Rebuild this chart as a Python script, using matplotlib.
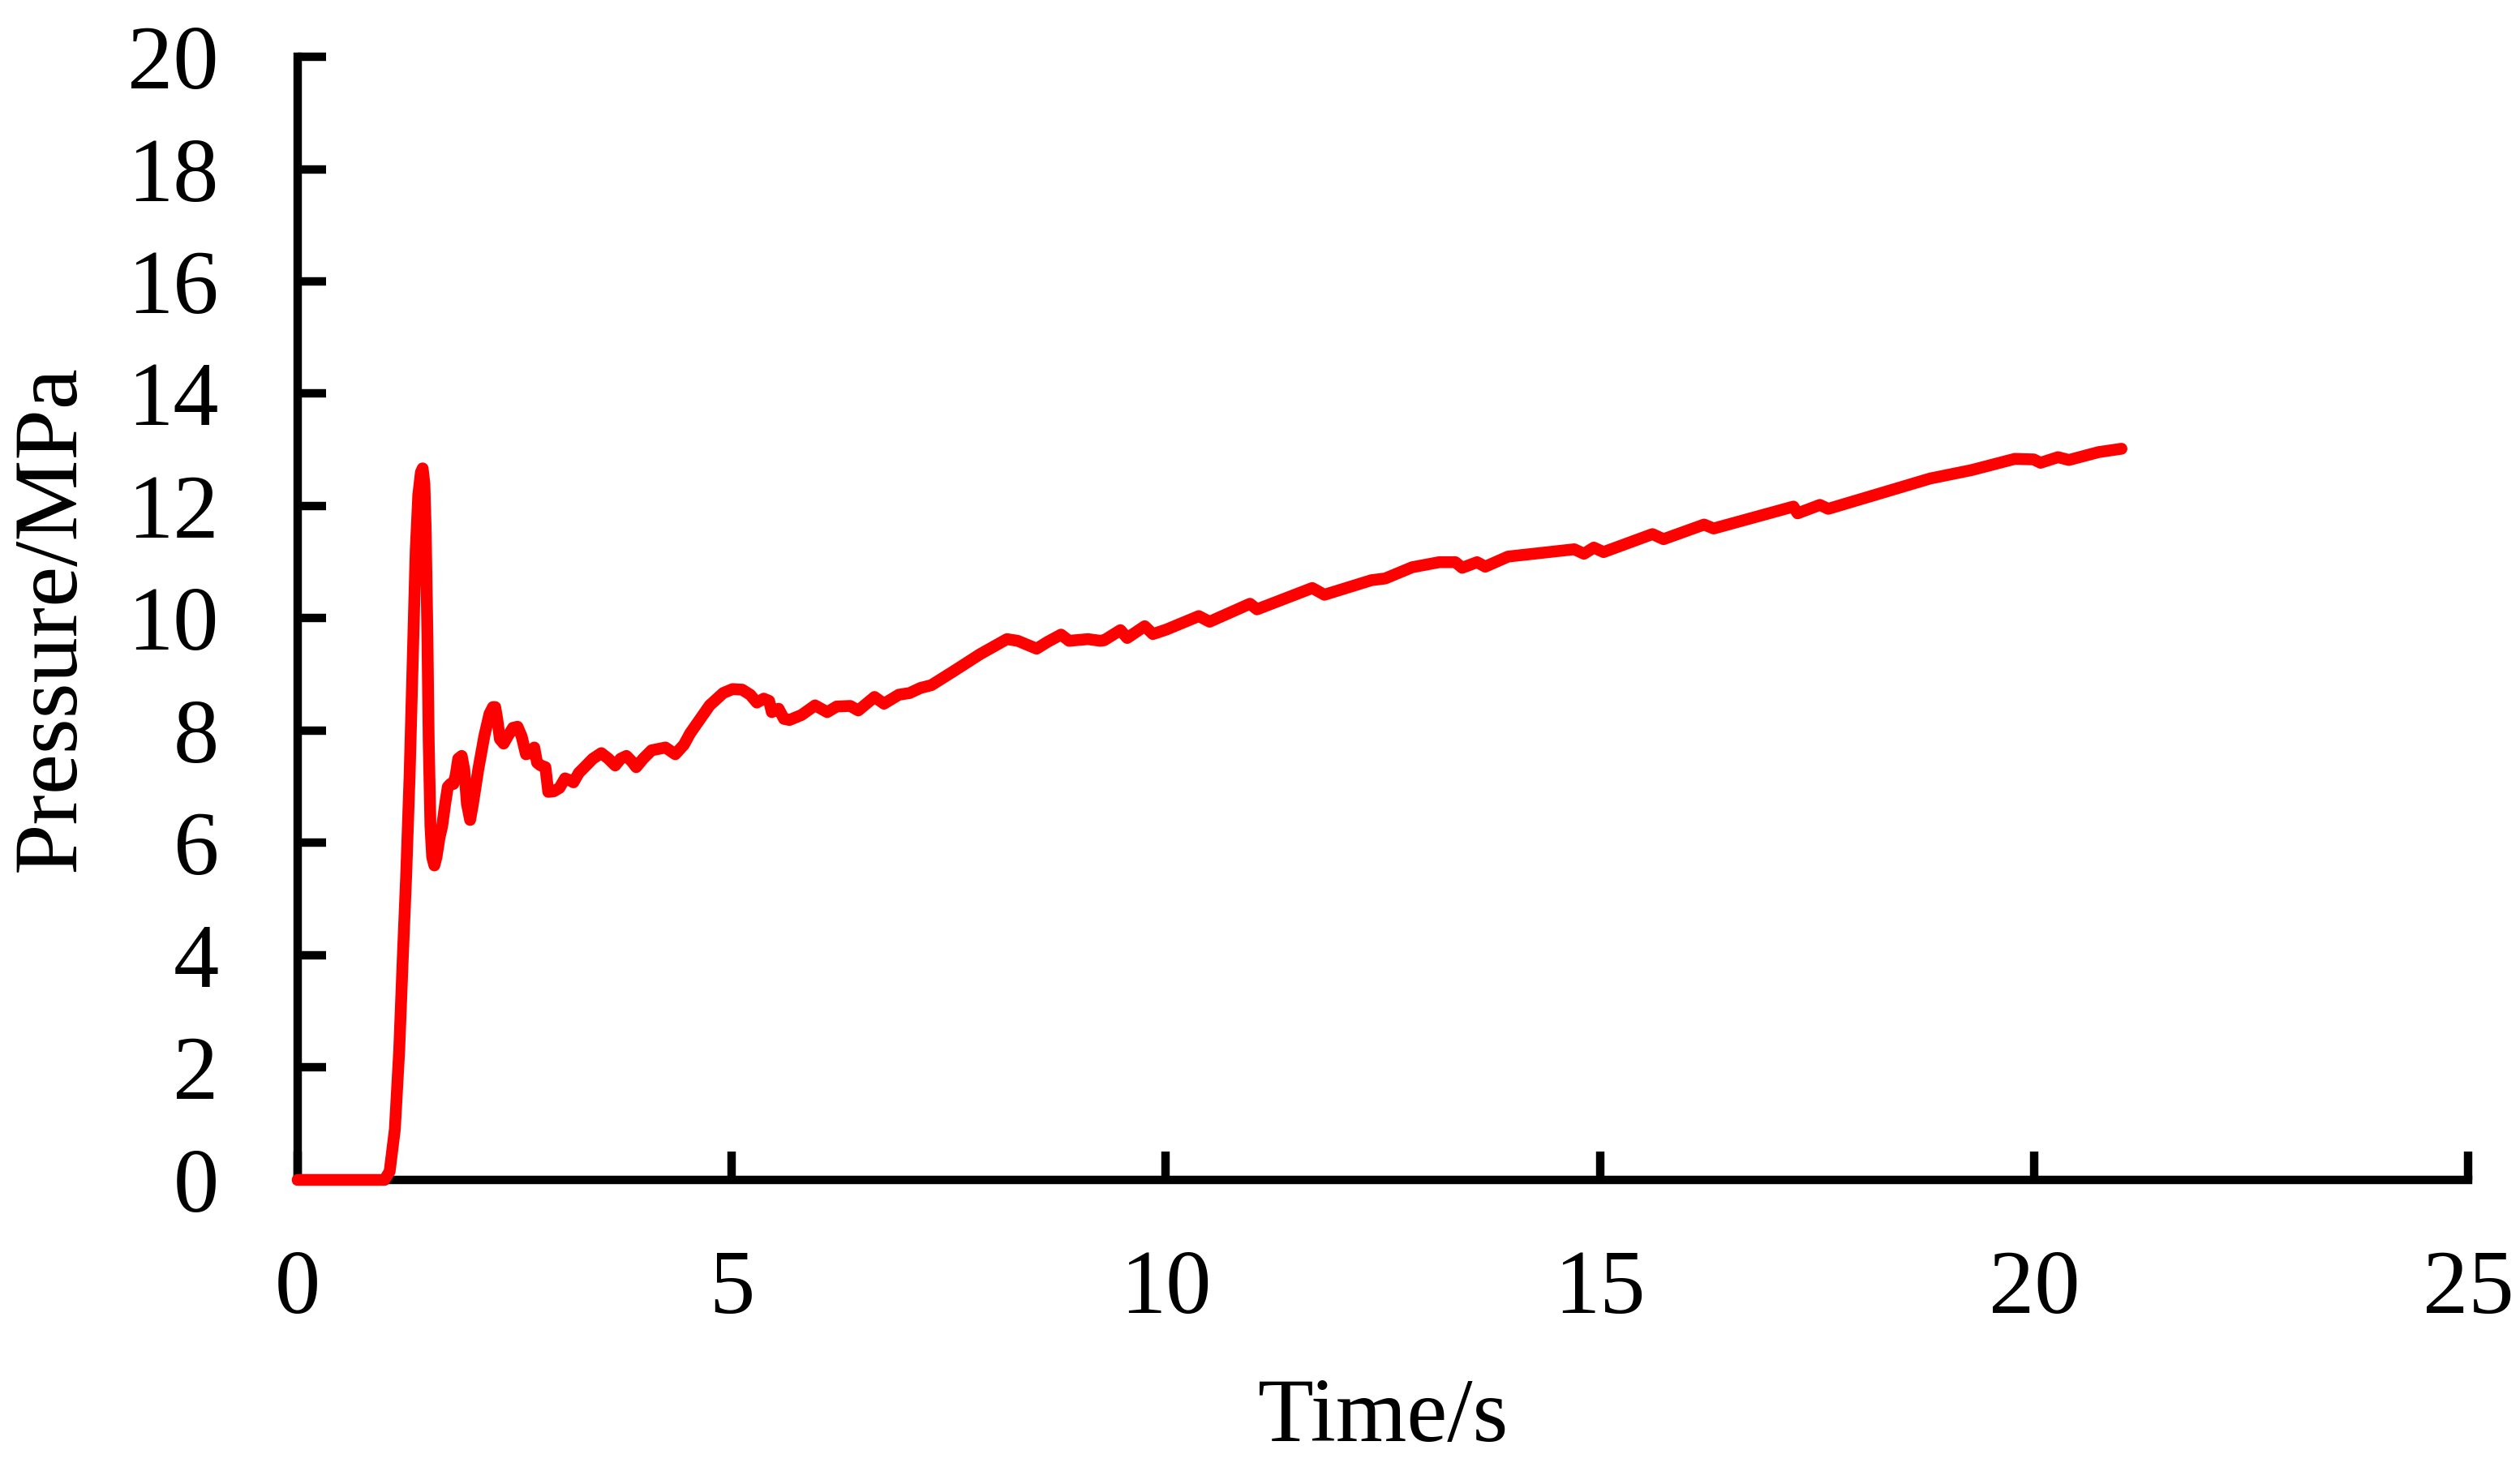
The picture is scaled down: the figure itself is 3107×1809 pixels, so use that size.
import matplotlib
matplotlib.use("Agg")
import matplotlib.pyplot as plt

# pressure trace (time in s, pressure in MPa)
time_s = [0.0, 1.00, 1.06, 1.12, 1.17, 1.21, 1.25, 1.29, 1.33, 1.36, 1.39, 1.42, 1.44,
          1.46, 1.475, 1.495, 1.51, 1.53, 1.55, 1.575, 1.60, 1.635, 1.665, 1.70, 1.73,
          1.76, 1.794, 1.82, 1.85, 1.89, 1.92, 1.95, 1.987, 2.02, 2.08, 2.15, 2.21,
          2.25, 2.276, 2.30, 2.33, 2.373, 2.42, 2.48, 2.533, 2.58, 2.63, 2.68, 2.726,
          2.758, 2.80, 2.854, 2.887, 2.95, 3.016, 3.08, 3.13, 3.177, 3.24, 3.305,
          3.40, 3.498, 3.58, 3.658, 3.72, 3.787, 3.85, 3.90, 3.98, 4.077, 4.237,
          4.35, 4.45, 4.52, 4.746, 4.902, 5.01, 5.12, 5.213, 5.29, 5.369, 5.431,
          5.462, 5.54, 5.602, 5.665, 5.805, 5.96, 6.10, 6.209, 6.365, 6.458, 6.645,
          6.754, 6.925, 7.05, 7.174, 7.30, 7.547, 7.859, 8.17, 8.294, 8.512, 8.637,
          8.793, 8.886, 9.104, 9.244, 9.29, 9.477, 9.555, 9.757, 9.851, 10.006,
          10.38, 10.504, 10.97, 11.05, 11.687, 11.827, 12.37, 12.527, 12.838,
          13.149, 13.336, 13.414, 13.585, 13.679, 13.943, 14.415, 14.705, 14.817,
          14.93, 15.042, 15.605, 15.733, 16.2, 16.31, 17.229, 17.277, 17.534,
          17.63, 18.804, 19.281, 19.779, 19.997, 20.075, 20.277, 20.402, 20.744,
          21.008]
pressure_mpa = [0.0, 0.0, 0.15, 0.9, 2.3, 3.9, 5.4, 7.2, 9.5, 11.2, 12.2, 12.6, 12.67,
                12.4, 11.6, 9.7, 7.8, 6.3, 5.75, 5.6, 5.75, 6.1, 6.3, 6.7, 7.0,
                7.05, 7.05, 7.2, 7.5, 7.55, 7.3, 6.7, 6.41, 6.7, 7.3, 7.9, 8.3,
                8.42, 8.42, 8.2, 7.85, 7.77, 7.9, 8.05, 8.07, 7.9, 7.58, 7.6, 7.70,
                7.43, 7.38, 7.35, 6.91, 6.92, 6.98, 7.15, 7.12, 7.08, 7.25, 7.35,
                7.5, 7.60, 7.5, 7.38, 7.5, 7.55, 7.45, 7.35, 7.5, 7.65, 7.70,
                7.58, 7.75, 7.95, 8.45, 8.67, 8.74, 8.73, 8.64, 8.50, 8.57, 8.53,
                8.33, 8.39, 8.21, 8.19, 8.28, 8.45, 8.33, 8.43, 8.44, 8.36, 8.60,
                8.48, 8.64, 8.67, 8.76, 8.81, 9.05, 9.36, 9.63, 9.60, 9.46, 9.58,
                9.71, 9.60, 9.63, 9.60, 9.61, 9.79, 9.65, 9.86, 9.72, 9.80,
                10.04, 9.94, 10.26, 10.16, 10.54, 10.42, 10.68, 10.71, 10.91,
                11.0, 11.0, 10.90, 11.0, 10.92, 11.10, 11.18, 11.23, 11.15,
                11.26, 11.18, 11.50, 11.41, 11.67, 11.60, 11.99, 11.87, 12.02,
                11.95, 12.49, 12.64, 12.84, 12.83, 12.77, 12.87, 12.82, 12.96,
                13.02]

x_ticks = [0, 5, 10, 15, 20, 25]
y_ticks = [0, 2, 4, 6, 8, 10, 12, 14, 16, 18, 20]

plt.rcParams['font.family'] = ['Liberation Serif', 'DejaVu Serif']

fig = plt.figure(figsize=(31.07, 18.09), dpi=100)
ax = fig.add_axes([0.1181, 0.1957, 0.9794 - 0.1181, 0.9613 - 0.1957])

ax.plot(time_s, pressure_mpa, color='#ff0000', linewidth=10.5,
        solid_capstyle='round', solid_joinstyle='round', clip_on=False, zorder=3)

ax.set_xlim(0, 25)
ax.set_ylim(0, 20)
ax.set_xticks(x_ticks)
ax.set_yticks(y_ticks)

for side in ['top', 'right']:
    ax.spines[side].set_visible(False)
for side in ['left', 'bottom']:
    ax.spines[side].set_linewidth(7.5)
    ax.spines[side].set_color('black')

ax.tick_params(axis='both', direction='in', length=25, width=7.5, colors='black',
               labelsize=81)
ax.tick_params(axis='x', pad=62)
ax.tick_params(axis='y', pad=70)

ax.set_xlabel('Time/s', fontsize=81, labelpad=40)
ax.set_ylabel('Pressure/MPa', fontsize=81, labelpad=30)

fig.savefig('out.png', dpi=100, facecolor='white')
